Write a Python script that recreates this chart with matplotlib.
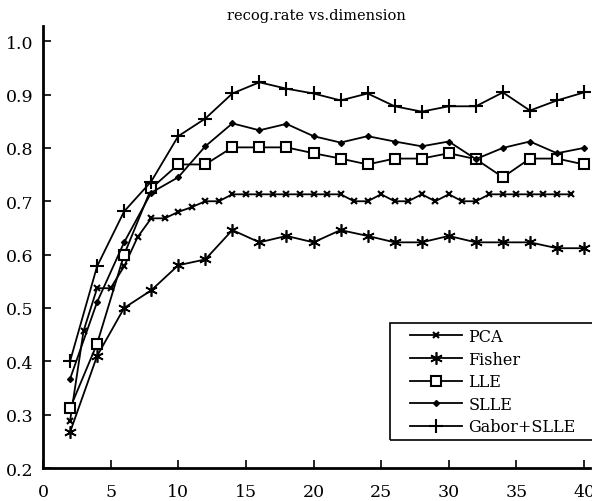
import numpy as np
import matplotlib
matplotlib.use('Agg')
import matplotlib.pyplot as plt
from matplotlib.patches import Rectangle

plt.rcParams['font.family'] = ['DejaVu Serif']

x_pca = list(range(2, 40))
pca = [0.288, 0.457, 0.537, 0.537, 0.578, 0.633, 0.668, 0.668, 0.680, 0.689,
       0.700, 0.700, 0.713, 0.713, 0.713, 0.713, 0.713, 0.713, 0.713, 0.713,
       0.713, 0.700, 0.700, 0.713, 0.700, 0.700, 0.713, 0.700, 0.713, 0.700,
       0.700, 0.713, 0.713, 0.713, 0.713, 0.713, 0.713, 0.713]

x2 = list(range(2, 41, 2))
fisher = [0.267, 0.410, 0.500, 0.533, 0.580, 0.591, 0.646, 0.623, 0.635, 0.623,
          0.646, 0.635, 0.623, 0.623, 0.635, 0.623, 0.623, 0.623, 0.612, 0.612]
lle = [0.312, 0.433, 0.600, 0.724, 0.769, 0.769, 0.801, 0.801, 0.801, 0.790,
       0.780, 0.769, 0.780, 0.780, 0.790, 0.779, 0.745, 0.780, 0.780, 0.769]
slle = [0.367, 0.511, 0.623, 0.716, 0.745, 0.803, 0.846, 0.833, 0.845, 0.822,
        0.810, 0.822, 0.812, 0.803, 0.812, 0.779, 0.800, 0.812, 0.790, 0.800]
gabor = [0.400, 0.578, 0.681, 0.737, 0.822, 0.855, 0.902, 0.923, 0.911, 0.902,
         0.889, 0.902, 0.878, 0.868, 0.878, 0.878, 0.904, 0.870, 0.889, 0.904]

fig = plt.figure(figsize=(5.92, 5.02), dpi=100)
ax = fig.add_axes([0.0726, 0.0657, 0.924, 0.880])

lw = 1.3
ax.plot(x_pca, pca, color='k', lw=lw, marker='x', ms=5, mew=1.5, label='PCA')
ax.plot(x2, fisher, color='k', lw=lw, marker=(6, 2, 0), ms=9, mew=1.2, label='Fisher')
ax.plot(x2, lle, color='k', lw=lw, marker='s', ms=7, mew=1.5, mfc='white', label='LLE')
ax.plot(x2, slle, color='k', lw=lw, marker='D', ms=3, label='SLLE')
ax.plot(x2, gabor, color='k', lw=lw, marker='+', ms=10, mew=1.5, label='Gabor+SLLE')

ax.set_xlim(0, 40.44)
ax.set_ylim(0.2, 1.028)
ax.set_xticks([0, 5, 10, 15, 20, 25, 30, 35, 40])
ax.set_yticks(np.arange(0.2, 1.01, 0.1))
ax.yaxis.set_major_formatter(matplotlib.ticker.FormatStrFormatter('%.1f'))
ax.tick_params(direction='in', length=6, width=1.2, labelsize=12.5)
ax.tick_params(axis='x', pad=11)
ax.tick_params(axis='y', pad=7)
for s in ['top', 'right']:
    ax.spines[s].set_visible(False)
for s in ['left', 'bottom']:
    ax.spines[s].set_linewidth(2)

ax.set_title('recog.rate vs.dimension', fontsize=10.5, pad=5)

# legend frame drawn separately so the entries can sit further in from the left edge
ax.add_patch(Rectangle((0.634, 0.063), 0.40, 0.265, transform=ax.transAxes,
                       fill=False, edgecolor='k', lw=1.2, clip_on=False, zorder=5))
leg = ax.legend(loc='upper left', bbox_to_anchor=(0.662, 0.328),
                fontsize=11.5, frameon=False, handlelength=3.25,
                handletextpad=0.4, labelspacing=0.35, borderpad=0.3,
                borderaxespad=0)

fig.savefig('out.png', dpi=100)
